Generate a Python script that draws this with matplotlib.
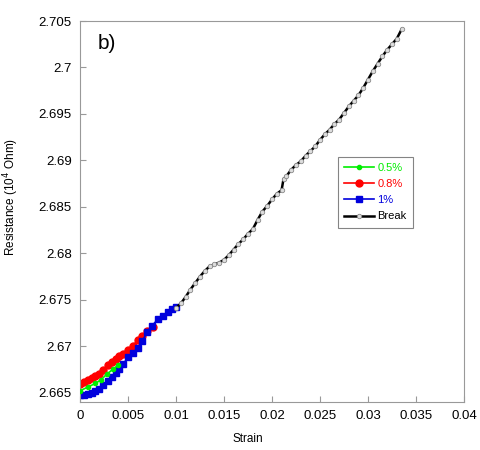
import numpy as np
import matplotlib
matplotlib.use("Agg")
import matplotlib.pyplot as plt
from matplotlib.ticker import FuncFormatter

plt.rcParams['font.family'] = ['Liberation Sans', 'DejaVu Sans']

# data
x_05 = [0.0000, 0.0008, 0.0016, 0.0022, 0.0028, 0.0034, 0.0040]
y_05 = [2.6652, 2.6656, 2.6660, 2.6664, 2.6670, 2.6675, 2.6680]

x_08 = [0.0000, 0.0004, 0.0008, 0.0012, 0.0016, 0.0020, 0.0024, 0.0029, 0.0033,
        0.0037, 0.0041, 0.0045, 0.0050, 0.0055, 0.0060, 0.0065, 0.0070, 0.0076]
y_08 = [2.6659, 2.6661, 2.6664, 2.6666, 2.6668, 2.6670, 2.6674, 2.6680, 2.6683,
        2.6686, 2.6689, 2.6692, 2.6696, 2.6700, 2.6707, 2.6711, 2.6716, 2.6721]

x_1 = [0.0000, 0.0004, 0.0008, 0.0012, 0.0016, 0.0020, 0.0024, 0.0029, 0.0033,
       0.0037, 0.0041, 0.0045, 0.0050, 0.0055, 0.0060, 0.0065, 0.0070, 0.0075,
       0.0081, 0.0086, 0.0092, 0.0096, 0.0100]
y_1 = [2.6648, 2.6648, 2.6649, 2.6650, 2.6652, 2.6654, 2.6658, 2.6663, 2.6667,
       2.6671, 2.6676, 2.6681, 2.6688, 2.6693, 2.6698, 2.6706, 2.6715, 2.6722,
       2.6729, 2.6733, 2.6737, 2.6740, 2.6742]

x_br = [0.0100, 0.0105, 0.0110, 0.0115, 0.0120, 0.0125, 0.0130, 0.0135, 0.0140,
        0.0145, 0.0150, 0.0155, 0.0160, 0.0165, 0.0170, 0.0175, 0.0180, 0.0185,
        0.0190, 0.0195, 0.0200, 0.0205, 0.0210, 0.0212, 0.0215, 0.0220, 0.0225,
        0.0230, 0.0235, 0.0240, 0.0245, 0.0250, 0.0255, 0.0260, 0.0265, 0.0270,
        0.0275, 0.0280, 0.0285, 0.0290, 0.0295, 0.0300, 0.0305, 0.0310, 0.0315,
        0.0320, 0.0325, 0.0330, 0.0335]
y_br = [2.6741, 2.6746, 2.6753, 2.6761, 2.6768, 2.6775, 2.6781, 2.6786, 2.6788,
        2.6790, 2.6793, 2.6798, 2.6804, 2.6810, 2.6815, 2.6821, 2.6826, 2.6836,
        2.6845, 2.6851, 2.6858, 2.6864, 2.6868, 2.6880, 2.6883, 2.6890, 2.6895,
        2.6899, 2.6905, 2.6910, 2.6915, 2.6922, 2.6928, 2.6933, 2.6939, 2.6944,
        2.6951, 2.6958, 2.6964, 2.6970, 2.6978, 2.6987, 2.6996, 2.7004, 2.7012,
        2.7019, 2.7025, 2.7031, 2.7041]

xticks = [0, 0.005, 0.01, 0.015, 0.02, 0.025, 0.03, 0.035, 0.04]
yticks = [2.665, 2.67, 2.675, 2.68, 2.685, 2.69, 2.695, 2.7, 2.705]

fig = plt.figure(figsize=(4.81, 4.5), dpi=100)
ax = fig.add_axes([80/481, 1-402/450, 384/481, 381/450])

ax.plot(x_05, y_05, '-', color='#00ee00', marker='o', ms=3, lw=1.2, label='0.5%', zorder=3)
ax.plot(x_08, y_08, '-', color='#ff0000', marker='o', ms=5, lw=1.2, label='0.8%', zorder=2)
ax.plot(x_1, y_1, '-', color='#0000dd', marker='s', ms=5, lw=1.2, label='1%', zorder=2.5)
ax.plot(x_br, y_br, '-', color='black', marker='o', ms=3.2, mfc='#dddddd', mec='#888888',
        mew=0.6, lw=1.8, label='Break', zorder=4)

ax.set_xlim(0, 0.04)
ax.set_ylim(2.664, 2.705)
ax.set_xticks(xticks)
ax.set_yticks(yticks)
fmt = FuncFormatter(lambda v, p: '%g' % round(v, 4))
ax.xaxis.set_major_formatter(fmt)
ax.yaxis.set_major_formatter(fmt)
ax.tick_params(direction='in', length=4, color='#999999', labelsize=9.5, pad=6)
for s in ax.spines.values():
    s.set_color('#999999')

ax.set_xlabel('Strain', fontsize=8.5)
ax.xaxis.set_label_coords(0.4375, -0.082)
ax.set_ylabel('Resistance (10$^4$ Ohm)', fontsize=8.5)
ax.yaxis.set_label_coords(-0.154, 0.538)

ax.text(0.045, 0.965, 'b)', transform=ax.transAxes, fontsize=15, va='top')

leg = ax.legend(loc='upper left', bbox_to_anchor=((338-80)/384, (402-157)/381),
                fontsize=8, frameon=True, fancybox=False, borderpad=0.55,
                handlelength=2.7, handletextpad=0.3, labelspacing=0.55,
                borderaxespad=0)
leg.get_frame().set_edgecolor('#666666')
leg.get_frame().set_linewidth(0.8)
for t, c in zip(leg.get_texts(), ['#00ee00', '#ff0000', '#0000dd', 'black']):
    t.set_color(c)

fig.savefig('out.png', dpi=100)
